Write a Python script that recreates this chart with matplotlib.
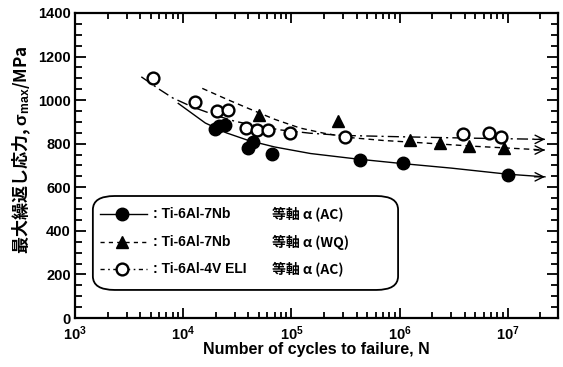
import numpy as np
import matplotlib
matplotlib.use('Agg')
import matplotlib.pyplot as plt
from matplotlib.patches import FancyBboxPatch
from matplotlib.ticker import LogLocator, MultipleLocator, FixedLocator

plt.rcParams['mathtext.fontset'] = 'custom'
plt.rcParams['mathtext.rm'] = 'Liberation Sans:bold'
plt.rcParams['mathtext.it'] = 'Liberation Sans:bold'
plt.rcParams['mathtext.bf'] = 'Liberation Sans:bold'

# Ti-6Al-7Nb, equiaxed alpha (AC) - filled circles
ac_N = [1.95e4, 2.15e4, 2.45e4, 3.95e4, 4.4e4, 6.55e4, 4.28e5, 1.07e6, 1.0e7]
ac_S = [868, 880, 885, 782, 808, 752, 725, 710, 656]
ac_fit_N = [9e3, 1.2e4, 1.6e4, 2.5e4, 4e4, 7e4, 1.5e5, 4e5, 1e6, 3e6, 1e7, 2.2e7]
ac_fit_S = [985, 940, 895, 850, 815, 785, 755, 730, 710, 688, 660, 648]

# Ti-6Al-7Nb, equiaxed alpha (WQ) - filled triangles
wq_N = [5.0e4, 2.7e5, 1.24e6, 2.38e6, 4.35e6, 9.2e6]
wq_S = [930, 903, 815, 802, 789, 779]
wq_fit_N = [1.5e4, 2.5e4, 4e4, 7e4, 1.2e5, 2e5, 3.5e5, 7e5, 1.5e6, 5e6, 2.2e7]
wq_fit_S = [1054, 1005, 962, 912, 872, 848, 828, 815, 805, 788, 771]

# Ti-6Al-4V ELI, equiaxed alpha (AC) - open circles
eli_N = [5.3e3, 1.28e4, 2.05e4, 2.6e4, 3.8e4, 4.8e4, 6.1e4, 9.7e4, 3.1e5, 3.85e6, 6.7e6, 8.6e6]
eli_S = [1100, 993, 950, 955, 872, 865, 862, 850, 832, 844, 848, 832]
eli_fit_N = [4.1e3, 6e3, 8e3, 1.2e4, 2e4, 3e4, 5e4, 8e4, 1.5e5, 3e5, 1e6, 4e6, 2.2e7]
eli_fit_S = [1107, 1050, 1010, 970, 930, 903, 880, 863, 848, 838, 832, 826, 820]

x_ticks = [1e3, 1e4, 1e5, 1e6, 1e7]
x_ticklabels = [r'$10^{3}$', r'$10^{4}$', r'$10^{5}$', r'$10^{6}$', r'$10^{7}$']
y_ticks = [0, 200, 400, 600, 800, 1000, 1200, 1400]

fig = plt.figure(figsize=(5.63, 3.67), dpi=100)
ax = fig.add_axes([0.1332, 0.1335, 0.8578, 0.8311])

fit_styles = [
    (ac_fit_N, ac_fit_S, dict(ls='-')),
    (wq_fit_N, wq_fit_S, dict(dashes=(4, 3))),
    (eli_fit_N, eli_fit_S, dict(dashes=(8, 3, 1.5, 3))),
]
for fn, fs, st in fit_styles:
    ax.plot(fn, fs, color='k', lw=1.0, **st)
    ax.annotate('', xy=(fn[-1], fs[-1]), xytext=(fn[-1] / 1.25, fs[-1]),
                arrowprops=dict(arrowstyle='->,head_length=0.5,head_width=0.25',
                                lw=1.0, color='k', mutation_scale=12,
                                shrinkA=0, shrinkB=0))

ax.plot(ac_N, ac_S, 'o', color='k', ms=9, zorder=5)
ax.plot(wq_N, wq_S, '^', color='k', ms=8, zorder=5)
ax.plot(eli_N, eli_S, 'o', mfc='white', mec='k', mew=1.7, ms=8.5, zorder=6)

ax.set_xscale('log')
ax.set_xlim(1e3, 2.9e7)
ax.set_ylim(0, 1400)
ax.xaxis.set_major_locator(FixedLocator(x_ticks))
ax.set_xticklabels(x_ticklabels)
ax.xaxis.set_minor_locator(LogLocator(base=10, subs=np.arange(2, 10)))
ax.xaxis.set_minor_formatter(plt.NullFormatter())
ax.set_yticks(y_ticks)
ax.yaxis.set_minor_locator(MultipleLocator(50))

for sp in ax.spines.values():
    sp.set_linewidth(1.6)
ax.tick_params(which='both', direction='in', top=True, right=True, width=1.3)
ax.tick_params(axis='x', which='major', length=7, pad=4.5)
ax.tick_params(axis='x', which='minor', length=4)
ax.tick_params(axis='y', which='major', length=8, pad=3)
ax.tick_params(axis='y', which='minor', length=5)
for lab in ax.get_yticklabels():
    lab.set_fontfamily('Liberation Sans')
    lab.set_fontweight('bold')
    lab.set_fontsize(10.5)
for lab in ax.get_xticklabels():
    lab.set_fontsize(10.5)

ax.set_xlabel('Number of cycles to failure, N', fontfamily='Liberation Sans',
              fontweight='bold', fontsize=11.5)
ax.xaxis.set_label_coords(0.5, -0.079)
ax.set_ylabel('最大繰返し応力, $\\sigma_{\\mathrm{max}}$/MPa',
              fontfamily='Noto Sans CJK JP', fontweight='bold', fontsize=12.3)
ax.yaxis.set_label_coords(-0.087, 0.551)

# legend box
box = FancyBboxPatch((0.037, 0.092), 0.632, 0.308,
                     boxstyle='round,pad=0,rounding_size=0.045',
                     transform=ax.transAxes, fc='white', ec='k', lw=1.3, zorder=7)
ax.add_patch(box)
leg_rows = [
    (0.341, dict(ls='-'), dict(marker='o', color='k', ms=9),
     ': Ti-6Al-7Nb', '等軸 α (AC)'),
    (0.249, dict(dashes=(3, 3)), dict(marker='^', color='k', ms=8),
     ': Ti-6Al-7Nb', '等軸 α (WQ)'),
    (0.161, dict(dashes=(3, 2.5, 1.2, 2.5)), dict(marker='o', mfc='white', mec='k', mew=1.7, ms=8.5),
     ': Ti-6Al-4V ELI', '等軸 α (AC)'),
]
for yy, lst, mst, t1, t2 in leg_rows:
    ax.plot([0.052, 0.149], [yy, yy], color='k', lw=1.0, transform=ax.transAxes,
            zorder=8, **lst)
    ax.plot([0.097], [yy], transform=ax.transAxes, zorder=9, ls='none', **mst)
    ax.text(0.161, yy, t1, transform=ax.transAxes, va='center', ha='left',
            fontfamily='Liberation Sans', fontweight='bold', fontsize=10, zorder=9)
    ax.text(0.408, yy, t2, transform=ax.transAxes, va='center', ha='left',
            fontfamily=['Noto Sans CJK JP', 'Liberation Sans'], fontweight='bold',
            fontsize=10, zorder=9)

fig.savefig('out.png', dpi=100)
